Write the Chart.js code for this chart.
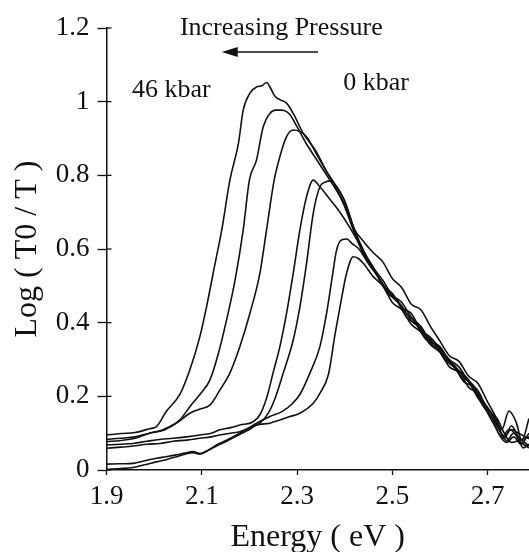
<!DOCTYPE html>
<html>
<head>
<meta charset="utf-8">
<script src="https://cdn.jsdelivr.net/npm/chart.js@4.4.1/dist/chart.umd.min.js"></script>
<style>
  html, body { margin: 0; padding: 0; background: #fff; }
  #wrap { width: 529px; height: 552px; }
</style>
</head>
<body>
<div id="wrap"><canvas id="myChart" width="529" height="552"></canvas></div>
<script>
// absorption spectra, one curve per pressure (46 kbar -> 0 kbar)
var curveLabels = ["46 kbar", "curve 2", "curve 3", "curve 4", "curve 5", "curve 6", "0 kbar"];

var energy1 = [1.90,1.93,1.96,1.99,2.005,2.026,2.054,2.075,2.096,2.11,2.128,2.142,2.159,2.177,2.187,2.201,2.215,2.226,2.236,2.245,2.254,2.265,2.278,2.292,2.313,2.34,2.36,2.38,2.40,2.42,2.44,2.46,2.48,2.50,2.52,2.54,2.56,2.58,2.60,2.62,2.64,2.66,2.68,2.70,2.72,2.735,2.75,2.765,2.787];
var absorb1 = [0.095,0.099,0.102,0.112,0.118,0.16,0.205,0.272,0.362,0.443,0.561,0.652,0.787,0.887,0.977,1.023,1.04,1.043,1.052,1.035,1.014,1.005,0.996,0.968,0.914,0.865,0.815,0.77,0.715,0.645,0.585,0.545,0.505,0.47,0.445,0.405,0.385,0.345,0.325,0.29,0.27,0.245,0.205,0.17,0.13,0.085,0.12,0.09,0.065];

var energy2 = [1.90,1.93,1.96,1.99,2.02,2.054,2.075,2.096,2.117,2.135,2.152,2.17,2.187,2.20,2.215,2.229,2.243,2.255,2.268,2.278,2.285,2.30,2.32,2.34,2.36,2.38,2.40,2.42,2.44,2.46,2.48,2.50,2.52,2.54,2.56,2.58,2.60,2.62,2.64,2.66,2.68,2.70,2.72,2.735,2.75,2.765,2.787];
var absorb2 = [0.077,0.08,0.086,0.1,0.11,0.136,0.172,0.205,0.244,0.317,0.407,0.516,0.652,0.787,0.842,0.932,0.968,0.977,0.977,0.973,0.965,0.932,0.885,0.845,0.805,0.765,0.72,0.65,0.59,0.55,0.5,0.48,0.44,0.425,0.38,0.36,0.33,0.3,0.28,0.24,0.215,0.165,0.14,0.1,0.075,0.08,0.09];

var energy3 = [1.90,1.93,1.96,1.99,2.02,2.05,2.075,2.095,2.117,2.138,2.159,2.18,2.201,2.222,2.236,2.252,2.264,2.278,2.292,2.306,2.32,2.34,2.36,2.38,2.40,2.42,2.44,2.46,2.48,2.50,2.52,2.54,2.56,2.58,2.60,2.62,2.64,2.66,2.68,2.70,2.72,2.735,2.75,2.765,2.787];
var absorb3 = [0.083,0.086,0.09,0.1,0.108,0.13,0.154,0.165,0.176,0.217,0.263,0.335,0.425,0.534,0.652,0.787,0.851,0.905,0.923,0.919,0.905,0.86,0.815,0.775,0.73,0.655,0.595,0.55,0.515,0.475,0.455,0.415,0.39,0.35,0.335,0.295,0.265,0.24,0.195,0.16,0.12,0.09,0.11,0.1,0.085];

var energy4 = [1.90,1.93,1.956,1.985,2.012,2.04,2.068,2.096,2.12,2.138,2.16,2.18,2.208,2.222,2.236,2.25,2.264,2.278,2.292,2.306,2.32,2.334,2.348,2.369,2.39,2.41,2.43,2.45,2.47,2.49,2.51,2.53,2.55,2.57,2.59,2.61,2.63,2.65,2.67,2.69,2.71,2.725,2.74,2.755,2.77,2.787];
var absorb4 = [0.068,0.07,0.072,0.078,0.083,0.086,0.09,0.095,0.1,0.109,0.115,0.122,0.131,0.15,0.195,0.265,0.335,0.425,0.534,0.652,0.742,0.787,0.769,0.735,0.70,0.66,0.615,0.565,0.525,0.485,0.46,0.425,0.4,0.365,0.345,0.305,0.285,0.25,0.23,0.185,0.15,0.11,0.08,0.1,0.075,0.06];

var energy5 = [1.90,1.93,1.956,1.985,2.012,2.04,2.068,2.096,2.12,2.138,2.16,2.18,2.2,2.222,2.24,2.254,2.271,2.292,2.306,2.32,2.334,2.348,2.36,2.369,2.38,2.40,2.42,2.44,2.46,2.48,2.50,2.52,2.54,2.56,2.58,2.60,2.62,2.64,2.66,2.68,2.70,2.715,2.73,2.745,2.76,2.772,2.787];
var absorb5 = [0.059,0.062,0.065,0.07,0.072,0.078,0.081,0.086,0.09,0.095,0.1,0.104,0.115,0.127,0.155,0.195,0.263,0.353,0.443,0.561,0.697,0.769,0.782,0.785,0.775,0.73,0.655,0.62,0.59,0.565,0.52,0.495,0.45,0.435,0.39,0.35,0.31,0.295,0.255,0.235,0.185,0.15,0.11,0.16,0.13,0.08,0.14];

var energy6 = [1.90,1.93,1.956,1.98,2.005,2.025,2.047,2.065,2.082,2.096,2.115,2.131,2.155,2.18,2.2,2.215,2.243,2.27,2.29,2.306,2.327,2.348,2.362,2.373,2.383,2.394,2.405,2.415,2.43,2.45,2.47,2.49,2.51,2.53,2.55,2.57,2.59,2.61,2.63,2.65,2.67,2.69,2.71,2.725,2.74,2.755,2.77,2.787];
var absorb6 = [0.016,0.017,0.018,0.025,0.032,0.036,0.041,0.046,0.05,0.045,0.055,0.068,0.083,0.1,0.115,0.127,0.145,0.16,0.18,0.205,0.263,0.335,0.425,0.516,0.597,0.625,0.627,0.615,0.6,0.56,0.525,0.48,0.46,0.415,0.395,0.355,0.34,0.3,0.28,0.24,0.225,0.175,0.14,0.095,0.075,0.09,0.07,0.1];

var energy7 = [1.90,1.93,1.956,1.98,2.005,2.025,2.047,2.065,2.082,2.096,2.115,2.131,2.155,2.18,2.2,2.215,2.243,2.264,2.285,2.306,2.334,2.348,2.366,2.38,2.394,2.404,2.418,2.428,2.44,2.46,2.48,2.50,2.52,2.54,2.56,2.58,2.60,2.62,2.64,2.66,2.68,2.70,2.715,2.73,2.745,2.76,2.775,2.787];
var absorb7 = [0.002,0.004,0.007,0.014,0.022,0.028,0.036,0.043,0.047,0.043,0.054,0.065,0.08,0.097,0.11,0.122,0.127,0.136,0.145,0.154,0.181,0.208,0.26,0.37,0.47,0.534,0.579,0.575,0.56,0.525,0.5,0.455,0.435,0.395,0.375,0.34,0.32,0.28,0.265,0.225,0.205,0.155,0.12,0.09,0.11,0.095,0.06,0.07];

var xTicks = [1.9, 2.1, 2.3, 2.5, 2.7];
var yTicks = [0, 0.2, 0.4, 0.6, 0.8, 1, 1.2];

var energies = [energy1, energy2, energy3, energy4, energy5, energy6, energy7];
var absorbs = [absorb1, absorb2, absorb3, absorb4, absorb5, absorb6, absorb7];

const serif = "'Liberation Serif', 'Times New Roman', serif";

const datasets = energies.map(function (ev, i) {
  return {
    label: curveLabels[i],
    data: ev.map(function (x, j) { return { x: x, y: absorbs[i][j] }; }),
    borderColor: "#111",
    borderWidth: 1.6,
    pointRadius: 0,
    fill: false,
    cubicInterpolationMode: "monotone"
  };
});

// text labels and arrow on the plot, placed in data units
const notes = [
  { text: "Increasing Pressure", x: 2.267, y: 1.2, size: 26 },
  { text: "46 kbar", x: 2.036, y: 1.031, size: 26 },
  { text: "0 kbar", x: 2.466, y: 1.05, size: 26 }
];
const arrow = { from: 2.344, to: 2.142, y: 1.135 };

const notesPlugin = {
  id: "notes",
  afterDraw(chart) {
    const ctx = chart.ctx;
    const xs = chart.scales.x, ys = chart.scales.y;
    ctx.save();
    ctx.fillStyle = "#111";
    ctx.strokeStyle = "#111";
    ctx.textAlign = "center";
    ctx.textBaseline = "middle";
    notes.forEach(function (n) {
      ctx.font = n.size + "px " + serif;
      ctx.fillText(n.text, xs.getPixelForValue(n.x), ys.getPixelForValue(n.y));
    });
    const x1 = xs.getPixelForValue(arrow.from);
    const x2 = xs.getPixelForValue(arrow.to);
    const ay = ys.getPixelForValue(arrow.y);
    ctx.lineWidth = 1.5;
    ctx.beginPath();
    ctx.moveTo(x1, ay);
    ctx.lineTo(x2 + 10, ay);
    ctx.stroke();
    ctx.beginPath();
    ctx.moveTo(x2, ay);
    ctx.lineTo(x2 + 16, ay - 5);
    ctx.lineTo(x2 + 16, ay + 5);
    ctx.closePath();
    ctx.fill();
    // inner half of the y tick marks
    const left = chart.chartArea.left;
    ctx.lineWidth = 1.3;
    yTicks.forEach(function (v) {
      const py = ys.getPixelForValue(v);
      ctx.beginPath();
      ctx.moveTo(left, py);
      ctx.lineTo(left + 5, py);
      ctx.stroke();
    });
    ctx.restore();
  }
};

new Chart("myChart", {
  type: "line",
  data: { datasets: datasets },
  options: {
    responsive: false,
    animation: false,
    devicePixelRatio: 1,
    layout: { padding: { left: 0, right: 0, top: 28, bottom: 0 } },
    plugins: { legend: { display: false }, tooltip: { enabled: false } },
    scales: {
      x: {
        type: "linear",
        min: 1.9,
        max: 2.787,
        afterBuildTicks: function (scale) { scale.ticks = xTicks.map(function (v) { return { value: v }; }); },
        afterFit: function (scale) { scale.height = 82; },
        ticks: {
          color: "#111",
          font: { family: serif, size: 27 },
          padding: 6,
          maxRotation: 0,
          autoSkip: false,
          callback: function (v) { return Number(v).toFixed(1); }
        },
        grid: { display: true, drawOnChartArea: false, tickLength: 5, tickColor: "#111", tickWidth: 1.3 },
        border: { display: true, color: "#111", width: 1.5 },
        title: {
          display: true,
          text: "Energy ( eV )",
          color: "#111",
          font: { family: serif, size: 32 },
          padding: { top: 0, bottom: -5 }
        }
      },
      y: {
        min: 0,
        max: 1.2,
        afterBuildTicks: function (scale) { scale.ticks = yTicks.map(function (v) { return { value: v }; }); },
        afterFit: function (scale) { scale.width = 106.5; },
        ticks: {
          color: "#111",
          font: { family: serif, size: 27 },
          padding: 8,
          callback: function (v) { return String(v); }
        },
        grid: { display: true, drawOnChartArea: false, tickLength: 9, tickColor: "#111", tickWidth: 1.3 },
        border: { display: true, color: "#111", width: 1.5 },
        title: {
          display: true,
          text: "Log ( T0 / T )",
          color: "#111",
          font: { family: serif, size: 32 },
          padding: { top: 8, bottom: 0 }
        }
      }
    }
  },
  plugins: [notesPlugin]
});
</script>
</body>
</html>
